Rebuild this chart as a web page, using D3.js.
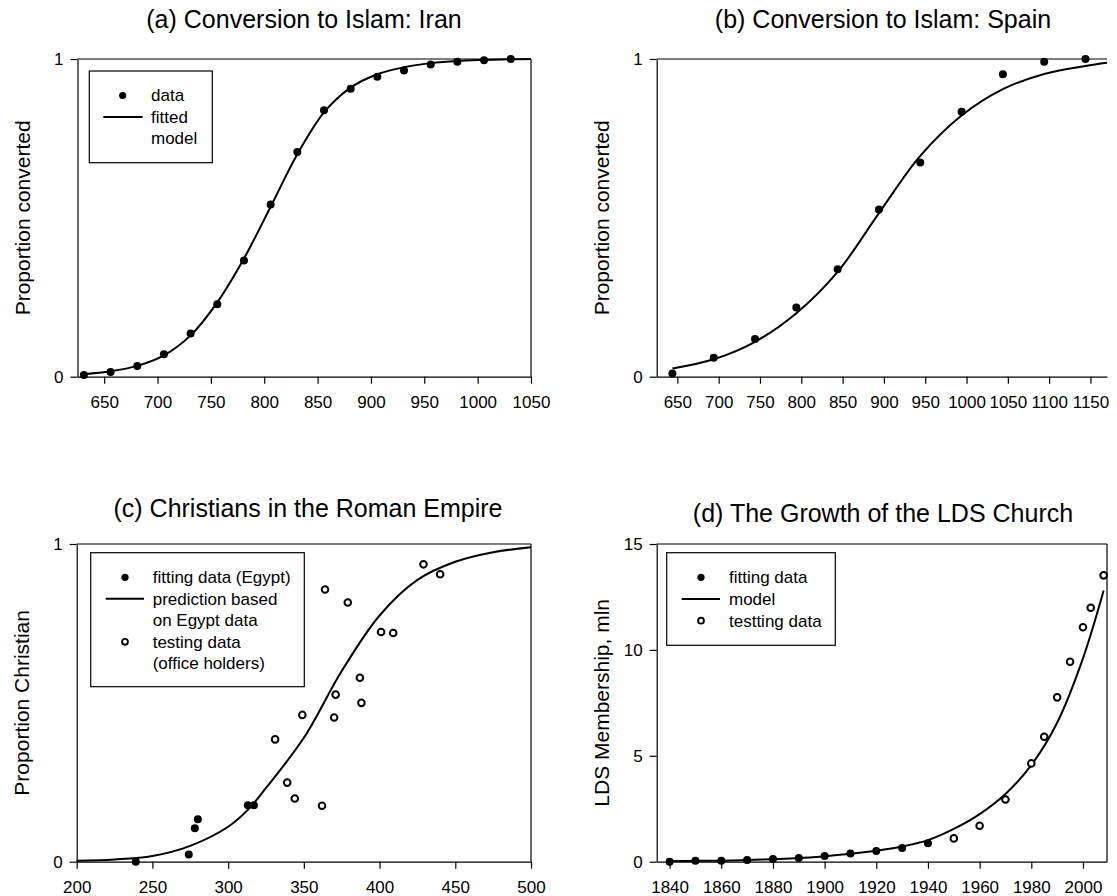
<!DOCTYPE html>
<html><head><meta charset="utf-8">
<script src="https://cdn.jsdelivr.net/npm/d3@7"></script>
<style>
body{margin:0;background:#fff}
svg{display:block}
text{font-family:"Liberation Sans",Arial,Helvetica,sans-serif;fill:#000}
</style>
</head><body>
<svg id="chart" width="1117" height="896"></svg>
<script>
// ---------- data ----------
const titles = ["(a) Conversion to Islam: Iran","(b) Conversion to Islam: Spain","(c) Christians in the Roman Empire","(d) The Growth of the LDS Church"];
const yLabels = ["Proportion converted","Proportion converted","Proportion Christian","LDS Membership, mln"];

const iranYears = [631,656,681,706,731,756,781,806,831,856,881,906,931,956,981,1006,1031];
const iranData  = [0.005,0.015,0.034,0.071,0.136,0.228,0.366,0.542,0.707,0.839,0.906,0.944,0.964,0.983,0.991,0.996,1.0];
const iranFitYears = [631,656,681,706,731,756,781,806,831,856,881,906,931,956,981,1006,1031,1050];
const iranFit      = [0.008,0.017,0.034,0.067,0.13,0.234,0.372,0.535,0.7,0.832,0.91,0.952,0.974,0.987,0.994,0.997,0.999,1.0];
const iranTicksX = [650,700,750,800,850,900,950,1000,1050];

const spainYears = [644,694,744,794,844,894,944,994,1044,1094,1144];
const spainData  = [0.01,0.06,0.119,0.218,0.338,0.526,0.674,0.834,0.952,0.991,1.0];
const spainFitYears = [644,694,744,794,844,894,944,994,1044,1094,1144,1170];
const spainFit      = [0.026,0.055,0.11,0.2,0.33,0.515,0.695,0.822,0.905,0.953,0.978,0.988];
const spainTicksX = [650,700,750,800,850,900,950,1000,1050,1100,1150];

const romeFitYears = [239,274,278,280,313,317];
const romeFitData  = [0.0,0.023,0.105,0.134,0.178,0.178];
const romeTestYears = [331,339,344,349,362,364,370,371,379,387,388,401,409,429,440];
const romeTestData  = [0.385,0.249,0.199,0.462,0.176,0.857,0.454,0.526,0.816,0.579,0.5,0.723,0.72,0.936,0.905];
const romeModelYears = [200,225,250,275,300,313,325,350,375,400,425,450,475,500];
const romeModel      = [0.003,0.007,0.018,0.05,0.11,0.163,0.232,0.39,0.6,0.775,0.887,0.944,0.974,0.99];
const romeTicksX = [200,250,300,350,400,450,500];

const ldsFitYears = [1840,1850,1860,1870,1880,1890,1900,1910,1920,1930,1940];
const ldsFitData  = [0.0,0.05,0.05,0.08,0.13,0.17,0.27,0.39,0.5,0.65,0.87];
const ldsTestYears = [1950,1960,1970,1980,1985,1990,1995,2000,2003,2008];
const ldsTestData  = [1.10,1.70,2.94,4.64,5.90,7.76,9.44,11.07,11.99,13.52];
const ldsModelYears = [1840,1850,1860,1870,1880,1890,1900,1910,1920,1930,1940,1950,1960,1970,1980,1990,2000,2008];
const ldsModel      = [0.03,0.04,0.05,0.08,0.12,0.17,0.26,0.37,0.52,0.72,1.02,1.55,2.25,3.2,4.56,6.56,9.6,12.8];
const ldsTicksX = [1840,1860,1880,1900,1920,1940,1960,1980,2000];
const ldsTicksY = [0,5,10,15];

const legendA = ["data","fitted","model"];
const legendC = ["fitting data (Egypt)","prediction based","on Egypt data","testing data","(office holders)"];
const legendD = ["fitting data","model","testting data"];

// ---------- drawing ----------
const svg = d3.select("#chart");

function panel(cfg){
  const g = svg.append("g");
  const x = d3.scaleLinear().domain(cfg.xDomain).range([cfg.left, cfg.right]);
  const y = d3.scaleLinear().domain(cfg.yDomain).range([cfg.bottom, cfg.top]);
  g.append("line").attr("x1",cfg.left).attr("x2",cfg.right).attr("y1",cfg.top).attr("y2",cfg.top)
    .attr("stroke","#000").attr("stroke-width",1.2);
  if (cfg.rightBorder) g.append("line").attr("x1",cfg.right).attr("x2",cfg.right).attr("y1",cfg.top).attr("y2",cfg.bottom)
    .attr("stroke","#000").attr("stroke-width",1.2);
  const ax = g.append("g").attr("transform",`translate(0,${cfg.bottom})`)
    .call(d3.axisBottom(x).tickValues(cfg.xTicks).tickFormat(d3.format("d")).tickSize(7).tickSizeOuter(0).tickPadding(12));
  const ay = g.append("g").attr("transform",`translate(${cfg.left},0)`)
    .call(d3.axisLeft(y).tickValues(cfg.yTicks).tickFormat(d3.format("d")).tickSize(7).tickSizeOuter(0).tickPadding(7));
  [ax,ay].forEach(a=>{
    a.selectAll("path.domain").attr("stroke","#000").attr("stroke-width",1.2);
    a.selectAll(".tick line").attr("stroke","#000").attr("stroke-width",1.2);
    a.selectAll("text").style("font-size","17px").attr("fill","#000").style("font-family",'"Liberation Sans",Arial,sans-serif');
  });
  g.append("text").attr("x",cfg.titleX).attr("y",cfg.titleY).attr("text-anchor","middle")
    .style("font-size",cfg.titleSize+"px").text(cfg.title);
  g.append("text").attr("transform",`translate(${cfg.left-55},${(cfg.top+cfg.bottom)/2}) rotate(-90)`)
    .attr("text-anchor","middle").attr("dy","0.35em").style("font-size","21px").text(cfg.yLabel);
  const pts = cfg.lineX.map((d,i)=>[d,cfg.lineY[i]]);
  g.append("path").datum(pts)
    .attr("d",d3.line().x(d=>x(d[0])).y(d=>y(d[1])).curve(d3.curveCatmullRom.alpha(0.5)))
    .attr("fill","none").attr("stroke","#000").attr("stroke-width",2);
  const fp = cfg.fillX.map((d,i)=>[d,cfg.fillY[i]]);
  g.selectAll("circle.f").data(fp).enter().append("circle").attr("class","f")
    .attr("cx",d=>x(d[0])).attr("cy",d=>y(d[1])).attr("r",4).attr("fill","#000");
  if (cfg.openX){
    const op = cfg.openX.map((d,i)=>[d,cfg.openY[i]]);
    g.selectAll("circle.o").data(op).enter().append("circle").attr("class","o")
      .attr("cx",d=>x(d[0])).attr("cy",d=>y(d[1])).attr("r",3.3)
      .attr("fill","#fff").attr("stroke","#000").attr("stroke-width",2);
  }
  const L = cfg.legend;
  if (!L) return;
  g.append("rect").attr("x",L.x0).attr("y",L.y0).attr("width",L.x1-L.x0).attr("height",L.y1-L.y0)
    .attr("fill","#fff").attr("stroke","#000").attr("stroke-width",1.2);
  L.labels.forEach((t,i)=>{
    const yy = L.rowY + i*L.dy;
    g.append("text").attr("x",L.textX).attr("y",yy).attr("dy","0.35em").style("font-size","17px").text(t);
    const kind = L.kinds[i];
    if (kind==="dot") g.append("circle").attr("cx",L.symX).attr("cy",yy).attr("r",3.6).attr("fill","#000");
    if (kind==="open") g.append("circle").attr("cx",L.symX).attr("cy",yy).attr("r",2.9).attr("fill","#fff").attr("stroke","#000").attr("stroke-width",1.9);
    if (kind==="line") g.append("line").attr("x1",L.lineX0).attr("x2",L.lineX1).attr("y1",yy).attr("y2",yy).attr("stroke","#000").attr("stroke-width",2);
  });
}

panel({left:77.5,right:531,top:59,bottom:376.7,xDomain:[625,1050],yDomain:[0,1],
  xTicks:iranTicksX,yTicks:[0,1],rightBorder:true,title:titles[0],titleX:304,titleY:28,titleSize:25,yLabel:yLabels[0],
  lineX:iranFitYears,lineY:iranFit,fillX:iranYears,fillY:iranData,
  legend:{x0:89.3,x1:212.3,y0:71,y1:162.7,rowY:95.5,dy:21.5,textX:151,symX:122.7,lineX0:103.3,lineX1:142.7,labels:legendA,kinds:["dot","line",""]}});

panel({left:656.7,right:1107,top:59,bottom:376.7,xDomain:[625,1170],yDomain:[0,1],
  xTicks:spainTicksX,yTicks:[0,1],rightBorder:false,title:titles[1],titleX:883,titleY:28,titleSize:25,yLabel:yLabels[1],
  lineX:spainFitYears,lineY:spainFit,fillX:spainYears,fillY:spainData,legend:null});

panel({left:76.7,right:531,top:544,bottom:861.7,xDomain:[200,500],yDomain:[0,1],
  xTicks:romeTicksX,yTicks:[0,1],rightBorder:true,title:titles[2],titleX:308,titleY:517,titleSize:25,yLabel:yLabels[2],
  lineX:romeModelYears,lineY:romeModel,fillX:romeFitYears,fillY:romeFitData,openX:romeTestYears,openY:romeTestData,
  legend:{x0:90.7,x1:304.3,y0:552.7,y1:686.7,rowY:577.3,dy:21.5,textX:152.7,symX:125,lineX0:105.7,lineX1:144,labels:legendC,kinds:["dot","line","","open",""]}});

panel({left:656.7,right:1107,top:544,bottom:861.7,xDomain:[1835,2009.3],yDomain:[0,15],
  xTicks:ldsTicksX,yTicks:ldsTicksY,rightBorder:true,title:titles[3],titleX:883,titleY:522,titleSize:25,yLabel:yLabels[3],
  lineX:ldsModelYears,lineY:ldsModel,fillX:ldsFitYears,fillY:ldsFitData,openX:ldsTestYears,openY:ldsTestData,
  legend:{x0:666.7,x1:835.3,y0:552.7,y1:645.3,rowY:577.3,dy:21.7,textX:729,symX:701,lineX0:681.7,lineX1:720,labels:legendD,kinds:["dot","line","open"]}});
</script>
</body></html>
